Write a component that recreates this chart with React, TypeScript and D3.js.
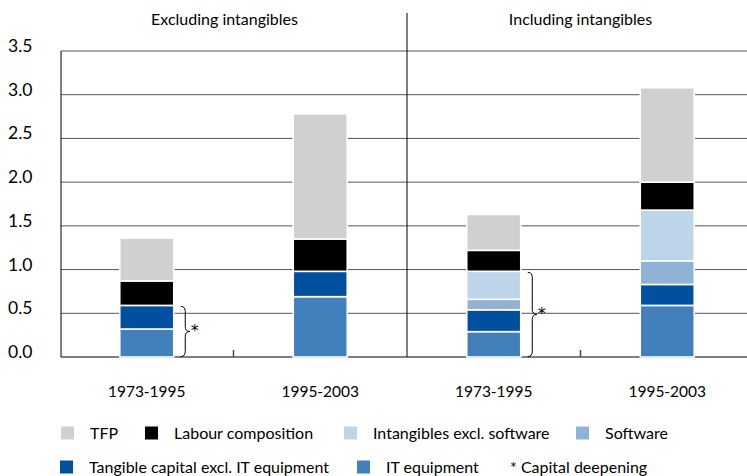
import React from "react";
import * as d3 from "d3";

const panels = ["Excluding intangibles", "Including intangibles"];
const categories = ["1973-1995", "1995-2003", "1973-1995", "1995-2003"];
const seriesNames = [
  "IT equipment",
  "Tangible capital excl. IT equipment",
  "Software",
  "Intangibles excl. software",
  "Labour composition",
  "TFP",
];
const seriesColors = ["#4280bc", "#0050a0", "#8fb2d6", "#bed4e8", "#000000", "#cfd0d2"];
const itEquipment = [0.32, 0.69, 0.29, 0.59];
const tangibleCapital = [0.27, 0.29, 0.25, 0.24];
const software = [0, 0, 0.12, 0.27];
const intangibles = [0, 0, 0.32, 0.58];
const labour = [0.28, 0.37, 0.24, 0.32];
const tfp = [0.49, 1.43, 0.41, 1.08];
const yTicks = [0, 0.5, 1.0, 1.5, 2.0, 2.5, 3.0, 3.5];
// bars carrying a "capital deepening" brace: index -> number of stacked series included
const braceBars = [
  { index: 0, layers: 2 },
  { index: 2, layers: 4 },
];
const legendRow1 = ["TFP", "Labour composition", "Intangibles excl. software", "Software"];
const legendRow2 = ["Tangible capital excl. IT equipment", "IT equipment"];
const legendNote = "* Capital deepening";

const W = 747;
const H = 476;
const FONT = "Lato, 'Open Sans', sans-serif";

export default function App() {
  const values = [itEquipment, tangibleCapital, software, intangibles, labour, tfp];
  const rows = categories.map((c, i) => {
    const r: any = { cat: i };
    seriesNames.forEach((s, k) => (r[s] = values[k][i]));
    return r;
  });
  const stacked = d3.stack<any>().keys(seriesNames)(rows);

  const left = 61;
  const x = d3.scaleBand<number>().domain(categories.map((_, i) => i)).range([60, 754]).paddingInner(0).paddingOuter(0);
  const y = d3.scaleLinear().domain([0, 3.5]).range([357, 51]);
  const bw = 54;
  const cx = (i: number) => (x(i) as number) + x.bandwidth() / 2;

  const colorOf = (name: string) => seriesColors[seriesNames.indexOf(name)];

  const bracePath = (x0: number, y1: number, y2: number, w: number) => {
    const xm = x0 + w / 2;
    const ym = (y1 + y2) / 2;
    const r = 5;
    return `M${x0},${y1} Q${xm},${y1} ${xm},${y1 + r} L${xm},${ym - r} Q${xm},${ym} ${x0 + w},${ym} Q${xm},${ym} ${xm},${ym + r} L${xm},${y2 - r} Q${xm},${y2} ${x0},${y2}`;
  };

  const legendSq = (xx: number, yy: number, color: string) => (
    <rect x={xx} y={yy - 6.5} width={13} height={13} fill={color} />
  );

  return (
    <svg width={W} height={H} style={{ display: "block", position: "absolute", left: 0, top: 0 }} fontFamily={FONT}>
      <rect x={0} y={0} width={W} height={H} fill="#fff" />
      {/* gridlines */}
      {yTicks.map((t) => (
        <line key={t} x1={left} x2={W} y1={y(t)} y2={y(t)} stroke={t === 0 ? "#000" : "#555"} strokeWidth={1} />
      ))}
      {/* left axis */}
      <line x1={left} x2={left} y1={y(3.5)} y2={y(0)} stroke="#000" strokeWidth={1} />
      {/* divider */}
      <line x1={x(2) as number} x2={x(2) as number} y1={13} y2={y(0)} stroke="#000" strokeWidth={1} />
      {/* category ticks */}
      {[1, 3].map((i) => (
        <line key={i} x1={x(i) as number} x2={x(i) as number} y1={y(0) - 7} y2={y(0)} stroke="#444" strokeWidth={1.5} />
      ))}
      {/* y tick labels */}
      {yTicks.map((t) => (
        <text key={t} x={8} y={y(t) + 1} fontSize={17.5} fill="#000">
          {d3.format(".1f")(t)}
        </text>
      ))}
      {/* bars */}
      {stacked.map((layer) =>
        layer.map((d, i) =>
          d[1] - d[0] > 0 ? (
            <rect
              key={layer.key + i}
              x={cx(i) - bw / 2}
              y={y(d[1])}
              width={bw}
              height={y(d[0]) - y(d[1])}
              fill={colorOf(layer.key)}
              stroke="#fff"
              strokeWidth={1.6}
            />
          ) : null
        )
      )}
      {/* braces */}
      {braceBars.map((b) => {
        const top = stacked[b.layers - 1][b.index][1];
        const x0 = cx(b.index) + bw / 2 + 7;
        const y1 = y(top) + 1;
        const y2 = y(0) - 0.5;
        return (
          <g key={b.index}>
            <path d={bracePath(x0, y1, y2, 9)} fill="none" stroke="#000" strokeWidth={1} />
            <text x={x0 + 10} y={(y1 + y2) / 2 + 5} fontSize={16} fontFamily="'DejaVu Sans', sans-serif" fill="#000">*</text>
          </g>
        );
      })}
      {/* category labels */}
      {categories.map((c, i) => (
        <text key={i} x={cx(i)} y={397} fontSize={15.5} textAnchor="middle">
          {c}
        </text>
      ))}
      {/* panel titles */}
      {panels.map((p, k) => (
        <text key={p} x={((x(2 * k) as number) + (x(2 * k + 1) as number) + x.bandwidth()) / 2 - 9 * (1 - k) + 0} y={25} fontSize={16} textAnchor="middle">
          {p}
        </text>
      ))}
      {/* legend */}
      {[61, 145, 344, 576].map((lx, k) => (
        <g key={k}>
          {legendSq(lx, 433, colorOf(legendRow1[k]))}
          <text x={lx + 29} y={438.5} fontSize={16}>{legendRow1[k]}</text>
        </g>
      ))}
      {[60, 357].map((lx, k) => (
        <g key={k}>
          {legendSq(lx, 467, colorOf(legendRow2[k]))}
          <text x={lx + 29} y={472.5} fontSize={16}>{legendRow2[k]}</text>
        </g>
      ))}
      <text x={510} y={472.5} fontSize={16}>{legendNote}</text>
    </svg>
  );
}
